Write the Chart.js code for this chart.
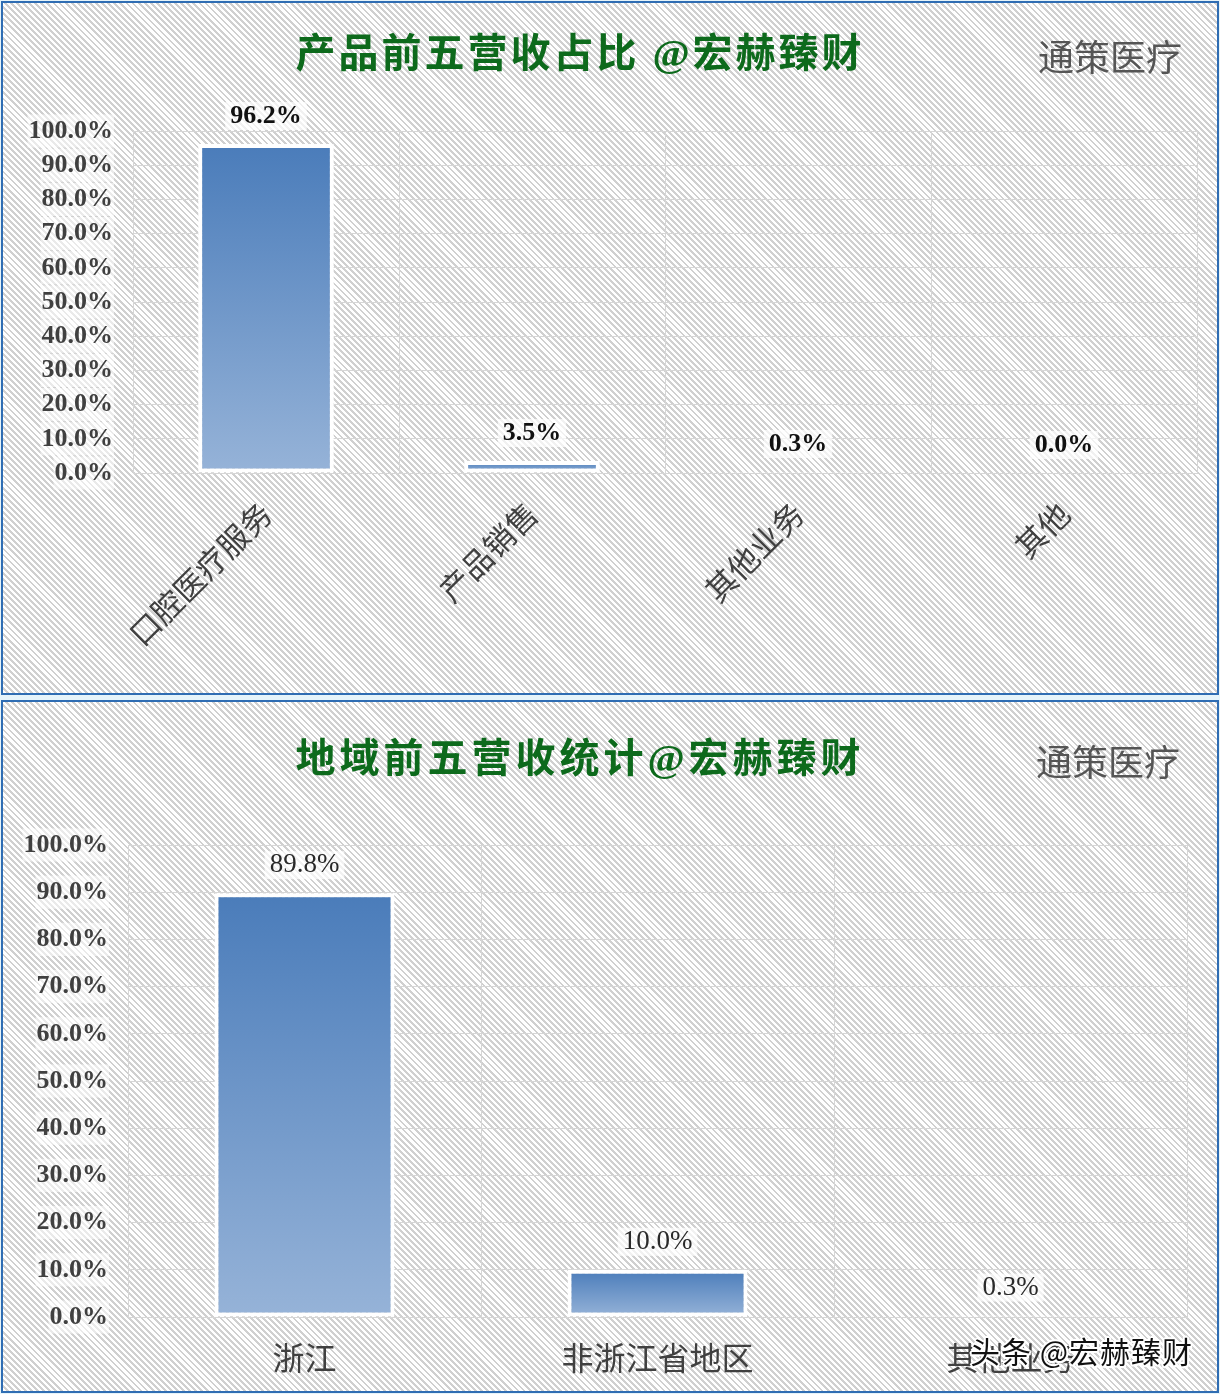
<!DOCTYPE html>
<html>
<head>
<meta charset="utf-8">
<script src="https://cdn.jsdelivr.net/npm/chart.js@4/dist/chart.umd.min.js"></script>
<style>
  html,body{margin:0;padding:0;}
  body{width:1220px;height:1394px;background:#e6f4fa;position:relative;overflow:hidden;}
  .panel{position:absolute;left:1px;width:1214px;border:2px solid #2f6db3;
    background:repeating-linear-gradient(45deg,#ffffff 0px,#ffffff 2.3px,#d0d0d0 2.3px,#d0d0d0 4.3px);}
  canvas{position:absolute;left:0;}
  .title{position:absolute;transform:translate(-50%,-50%);white-space:nowrap;
    font-family:"Liberation Serif","Noto Sans CJK SC",serif;font-weight:bold;font-size:40px;color:#0d6a1c;}
  .title .cjk{font-family:"Noto Sans CJK SC",sans-serif;}
  .brand{position:absolute;transform:translate(-50%,-50%);white-space:nowrap;
    font-family:"Noto Sans CJK SC",sans-serif;font-size:36px;color:#555555;}
  .wm{position:absolute;white-space:nowrap;font-family:"Noto Sans CJK SC",sans-serif;font-size:30px;color:#111;letter-spacing:1px;
    text-shadow:-1.5px -1.5px 0 #fff,1.5px -1.5px 0 #fff,-1.5px 1.5px 0 #fff,1.5px 1.5px 0 #fff,0 2px 0 #fff,0 -2px 0 #fff,2px 0 0 #fff,-2px 0 0 #fff;}
</style>
</head>
<body>
<div class="panel" style="top:1px;height:690px;"></div>
<div class="panel" style="top:700px;height:689px;"></div>

<canvas id="c1" width="1220" height="697" style="top:0;"></canvas>
<canvas id="c2" width="1220" height="697" style="top:697px;"></canvas>

<div class="title" style="left:580px;top:50px;letter-spacing:3px;"><span class="cjk">产品前五营收占比</span> @<span class="cjk">宏赫臻财</span></div>
<div class="brand" style="left:1110px;top:55px;">通策医疗</div>
<div class="title" style="left:580px;top:755px;letter-spacing:4px;"><span class="cjk">地域前五营收统计</span>@<span class="cjk">宏赫臻财</span></div>
<div class="brand" style="left:1108px;top:760px;">通策医疗</div>
<div class="wm" style="left:970px;top:1328px;">头条 @宏赫臻财</div>

<script>
// ---- data ----
const productCategories = ["口腔医疗服务", "产品销售", "其他业务", "其他"];
const productShares = [96.2, 3.5, 0.3, 0.0];
const regionCategories = ["浙江", "非浙江省地区", "其他业务"];
const regionShares = [89.8, 10.0, 0.3];
const yTickMin = 0;
const yTickMax = 100;
const yTickStep = 10;

// ---- helpers ----
const pct = v => Number(v).toFixed(1) + "%";

function barGradient(ctx) {
  const chart = ctx.chart;
  if (!chart.chartArea || ctx.type !== "data") return "#4f81bd";
  const v = ctx.parsed ? ctx.parsed.y : ctx.raw;
  const ys = chart.scales.y;
  const top = ys.getPixelForValue(v);
  const bot = ys.getPixelForValue(0);
  if (bot - top < 2) return "#4f81bd";
  const g = chart.ctx.createLinearGradient(0, top, 0, bot);
  g.addColorStop(0, "#4a7cba");
  g.addColorStop(1, "#96b3d8");
  return g;
}

const valueLabels = {
  id: "valueLabels",
  afterDatasetsDraw(chart, args, opts) {
    const meta = chart.getDatasetMeta(0);
    const data = chart.data.datasets[0].data;
    const c = chart.ctx;
    c.save();
    c.font = opts.font;
    c.textAlign = "center";
    c.textBaseline = "middle";
    meta.data.forEach((bar, i) => {
      const txt = pct(data[i]);
      const y = bar.y - opts.offset;
      const w = c.measureText(txt).width;
      c.fillStyle = "rgba(255,255,255,0.7)";
      c.fillRect(bar.x - w / 2 - 5, y - 14, w + 10, 28);
      c.fillStyle = opts.color;
      c.fillText(txt, bar.x, y);
    });
    c.restore();
  }
};

function makeChart(id, labels, values, cfg) {
  return new Chart(document.getElementById(id), {
    type: "bar",
    data: {
      labels: labels,
      datasets: [{
        data: values,
        backgroundColor: barGradient,
        borderColor: "#ffffff",
        borderWidth: 4,
        borderSkipped: false,
        categoryPercentage: 1.0,
        barPercentage: cfg.barPct
      }]
    },
    plugins: [valueLabels],
    options: {
      responsive: false,
      animation: false,
      devicePixelRatio: 1,
      layout: { padding: { left: 0, top: cfg.top, right: cfg.right, bottom: 0 } },
      plugins: {
        legend: { display: false },
        tooltip: { enabled: false },
        valueLabels: { font: cfg.labelFont, color: cfg.labelColor, offset: 28 }
      },
      scales: {
        y: {
          min: yTickMin, max: yTickMax,
          afterFit: s => { s.width = cfg.left; },
          grid: { color: "#d6d6d6", lineWidth: 1, drawTicks: false },
          border: { color: "#d6d6d6" },
          ticks: {
            stepSize: yTickStep,
            padding: 20,
            color: "#404040",
            font: { family: "Liberation Serif", size: 26, weight: "bold" },
            callback: v => pct(v),
            showLabelBackdrop: true,
            backdropColor: "rgba(255,255,255,0.55)",
            backdropPadding: 1
          }
        },
        x: {
          afterFit: s => { s.height = cfg.xHeight; },
          grid: { color: "#d6d6d6", lineWidth: 1, drawTicks: false, offset: true },
          border: { color: "#d6d6d6" },
          ticks: {
            padding: cfg.xPad,
            color: "#404040",
            minRotation: cfg.rot, maxRotation: cfg.rot,
            autoSkip: false,
            font: { family: "Noto Sans CJK SC", size: cfg.xFont }
          }
        }
      }
    }
  });
}

makeChart("c1", productCategories, productShares, {
  barPct: 0.51, top: 131, right: 23, left: 133, xHeight: 224, xPad: 22, rot: 45, xFont: 31,
  labelFont: "bold 26px 'Liberation Serif'", labelColor: "#111111"
});
makeChart("c2", regionCategories, regionShares, {
  barPct: 0.51, top: 148, right: 33, left: 128, xHeight: 77, xPad: 22, rot: 0, xFont: 32,
  labelFont: "27px 'Liberation Serif'", labelColor: "#2a2a2a"
});
</script>
</body>
</html>
